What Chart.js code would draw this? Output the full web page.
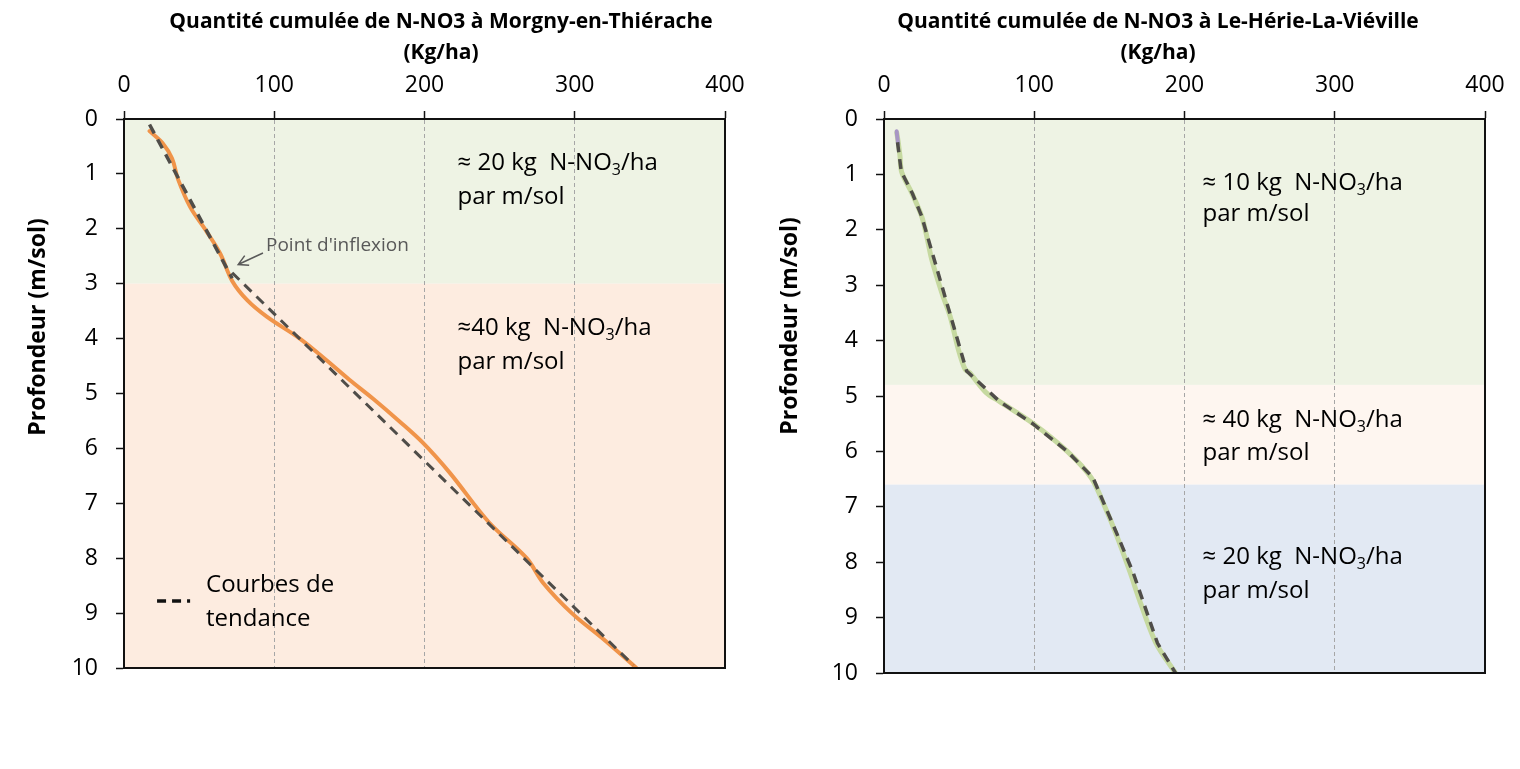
<!DOCTYPE html>
<html>
<head>
<meta charset="utf-8">
<script src="https://cdn.jsdelivr.net/npm/chart.js@4.4.1/dist/chart.umd.min.js"></script>
<style>
  body { margin: 0; background: #fff; }
  .wrap { display: flex; width: 1520px; height: 769px; }
  canvas { display: block; }
</style>
</head>
<body>
<div class="wrap">
  <canvas id="morgny" width="760" height="769"></canvas>
  <canvas id="herie" width="760" height="769"></canvas>
</div>
<script>
// axes
const kgTicks = [0, 100, 200, 300, 400];
const depthTicks = [0, 1, 2, 3, 4, 5, 6, 7, 8, 9, 10];

// Morgny-en-Thiérache : quantité cumulée (kg/ha) selon profondeur (m)
const morgnyKg = [17, 26, 32, 36, 44, 55, 64, 72, 82, 95, 117, 135, 150, 166, 183, 199, 217, 243, 268, 279, 298, 318, 341];
const morgnyDepth = [0.22, 0.45, 0.72, 1.1, 1.6, 2.05, 2.45, 2.95, 3.3, 3.6, 4.0, 4.4, 4.75, 5.1, 5.5, 5.9, 6.45, 7.35, 8.0, 8.45, 9.0, 9.45, 10.0];
const morgnyTrend1Kg = [17, 72];
const morgnyTrend1Depth = [0.1, 2.9];
const morgnyTrend2Kg = [72, 339];
const morgnyTrend2Depth = [2.8, 9.95];
const morgnyZones = [0, 3, 10];

// Le-Hérie-La-Viéville
const herieKg = [8.5, 9.5, 10.6, 11.8, 18.4, 25, 28.4, 31.7, 38.4, 44, 49.5, 54, 57, 68, 77, 99, 122, 138, 147, 155, 164, 170, 181, 194];
const herieDepth = [0.25, 0.42, 0.66, 0.96, 1.33, 1.75, 2.11, 2.53, 3.13, 3.56, 4.16, 4.52, 4.58, 4.94, 5.1, 5.49, 6.0, 6.48, 7.0, 7.53, 8.2, 8.68, 9.46, 10.0];
const herieTipKg = [8.4, 9.4];
const herieTipDepth = [0.22, 0.45];
const herieTrendKg = [9, 11.5, 19, 25, 55, 77, 99, 122, 139, 156, 166, 182, 194];
const herieTrendDepth = [0.42, 0.95, 1.35, 1.75, 4.55, 5.1, 5.5, 6.0, 6.47, 7.55, 8.2, 9.46, 10.0];
const herieZones = [0, 4.8, 6.6, 10];

const FONT = "'Open Sans', 'DejaVu Sans', sans-serif";
const NOTE_SIZE = 24;

function pts(xs, ys) {
    return xs.map((x, i) => ({ x: x, y: ys[i] }));
}

// texte avec indice (N-NO3)
function drawRich(ctx, parts, x, y, size) {
    let cx = x;
    parts.forEach(p => {
        if (typeof p === "string") {
            ctx.font = size + "px " + FONT;
            ctx.fillText(p, cx, y);
            cx += ctx.measureText(p).width;
        } else {
            ctx.font = Math.round(size * 0.65) + "px " + FONT;
            ctx.fillText(p.sub, cx, y + size * 0.3);
            cx += ctx.measureText(p.sub).width;
        }
    });
}

const decor = {
    id: "decor",
    beforeDraw(chart, args, o) {
        const { ctx, chartArea: a, scales: { y } } = chart;
        ctx.save();
        o.zones.forEach((z, i) => {
            if (i === o.zones.length - 1) return;
            const y1 = y.getPixelForValue(z), y2 = y.getPixelForValue(o.zones[i + 1]);
            ctx.fillStyle = o.zoneColors[i];
            ctx.fillRect(a.left, y1, a.right - a.left, y2 - y1);
        });
        ctx.restore();
    },
    afterDatasetsDraw(chart, args, o) {
        const { ctx, chartArea: a, scales: { x, y } } = chart;
        ctx.save();
        // cadre
        ctx.strokeStyle = "#111";
        ctx.lineWidth = 2;
        ctx.beginPath();
        ctx.moveTo(a.right, a.top);
        ctx.lineTo(a.right, a.bottom);
        ctx.lineTo(a.left, a.bottom);
        ctx.stroke();

        // titres
        ctx.fillStyle = "#000";
        ctx.textAlign = "center";
        ctx.textBaseline = "middle";
        ctx.font = "bold 21px " + FONT;
        o.title.forEach((t, i) => ctx.fillText(t, o.titleX, 22 + i * 31));
        ctx.save();
        ctx.translate(o.yTitleX, o.yTitleY);
        ctx.rotate(-Math.PI / 2);
        ctx.font = "bold 23px " + FONT;
        ctx.fillText("Profondeur (m/sol)", 0, 0);
        ctx.restore();

        // annotations
        ctx.textAlign = "left";
        o.notes.forEach(n => {
            const px = x.getPixelForValue(n.kg), py = y.getPixelForValue(n.depth);
            drawRich(ctx, n.parts, px, py, NOTE_SIZE);
            ctx.font = NOTE_SIZE + "px " + FONT;
            ctx.fillText("par m/sol", px, y.getPixelForValue(n.depth2));
        });

        if (o.inflexion) {
            const f = o.inflexion;
            ctx.fillStyle = "#595959";
            ctx.font = "19px " + FONT;
            ctx.fillText("Point d'inflexion", x.getPixelForValue(f.kg), y.getPixelForValue(f.depth));
            const tx = x.getPixelForValue(f.tipKg), ty = y.getPixelForValue(f.tipDepth);
            const sx = x.getPixelForValue(f.tailKg), sy = y.getPixelForValue(f.tailDepth);
            const ang = Math.atan2(ty - sy, tx - sx);
            ctx.strokeStyle = "#595959";
            ctx.lineWidth = 1.5;
            ctx.beginPath();
            ctx.moveTo(sx, sy);
            ctx.lineTo(tx, ty);
            ctx.moveTo(tx - 11 * Math.cos(ang - 0.5), ty - 11 * Math.sin(ang - 0.5));
            ctx.lineTo(tx, ty);
            ctx.lineTo(tx - 11 * Math.cos(ang + 0.5), ty - 11 * Math.sin(ang + 0.5));
            ctx.stroke();
        }

        if (o.legend) {
            const l = o.legend;
            const ly = y.getPixelForValue(l.depth);
            ctx.strokeStyle = "#111";
            ctx.lineWidth = 3.5;
            ctx.setLineDash([9, 6]);
            ctx.beginPath();
            ctx.moveTo(x.getPixelForValue(l.fromKg), ly);
            ctx.lineTo(x.getPixelForValue(l.toKg), ly);
            ctx.stroke();
            ctx.setLineDash([]);
            ctx.fillStyle = "#000";
            ctx.font = NOTE_SIZE + "px " + FONT;
            ctx.fillText("Courbes de", x.getPixelForValue(l.textKg), ly - 16);
            ctx.fillText("tendance", x.getPixelForValue(l.textKg), ly + 18);
        }
        ctx.restore();
    }
};

function scalesFor() {
    return {
        x: {
            type: "linear", position: "top", min: 0, max: 400,
            afterBuildTicks: s => { s.ticks = kgTicks.map(v => ({ value: v })); },
            afterFit: s => { s.height = 119; },
            ticks: { color: "#000", font: { family: FONT, size: 23 }, padding: 12 },
            grid: {
                color: c => (c.tick && (c.tick.value === 0 || c.tick.value === 400)) ? "rgba(0,0,0,0)" : "#a6a6a6",
                lineWidth: 1, tickColor: "#111", tickLength: 8, tickWidth: 1.5
            },
            border: { display: true, color: "#111", width: 2, dash: [4, 3] }
        },
        y: {
            type: "linear", reverse: true, min: 0, max: 10,
            afterBuildTicks: s => { s.ticks = depthTicks.map(v => ({ value: v })); },
            afterFit: s => { s.width = 124; },
            ticks: { color: "#000", font: { family: FONT, size: 23 }, padding: 18 },
            grid: { drawOnChartArea: false, tickColor: "#111", tickLength: 8, tickWidth: 1.5 },
            border: { display: true, color: "#111", width: 2 }
        }
    };
}

const lineBase = { pointRadius: 0, fill: false, borderCapStyle: "round" };
const trendBase = { pointRadius: 0, fill: false, borderColor: "#4f4d49", borderWidth: 3.5, borderDash: [10, 7], borderCapStyle: "butt", order: 0 };

new Chart(document.getElementById("morgny"), {
    type: "line",
    data: {
        datasets: [
            Object.assign({ label: "Tendance 1", data: pts(morgnyTrend1Kg, morgnyTrend1Depth) }, trendBase),
            Object.assign({ label: "Tendance 2", data: pts(morgnyTrend2Kg, morgnyTrend2Depth) }, trendBase, { borderWidth: 3 }),
            Object.assign({ label: "Morgny", data: pts(morgnyKg, morgnyDepth), borderColor: "#f0944a", borderWidth: 4, tension: 0.35, order: 1 }, lineBase)
        ]
    },
    options: {
        responsive: false, animation: false,
        layout: { padding: { left: 0, top: 0, right: 35, bottom: 101 } },
        scales: scalesFor(),
        plugins: {
            legend: { display: false }, tooltip: { enabled: false },
            decor: {
                zones: morgnyZones, zoneColors: ["#eef3e4", "#fdece0"],
                title: ["Quantité cumulée de N-NO3 à Morgny-en-Thiérache", "(Kg/ha)"],
                titleX: 441, yTitleX: 38, yTitleY: 327,
                notes: [
                    { parts: ["≈ 20 kg  N-NO", { sub: "3" }, "/ha"], kg: 222, depth: 0.8, depth2: 1.42 },
                    { parts: ["≈40 kg  N-NO", { sub: "3" }, "/ha"], kg: 222, depth: 3.81, depth2: 4.43 }
                ],
                inflexion: { kg: 94.5, depth: 2.3, tailKg: 92.5, tailDepth: 2.44, tipKg: 76, tipDepth: 2.65 },
                legend: { fromKg: 22, toKg: 44, depth: 8.78, textKg: 54.6 }
            }
        }
    },
    plugins: [decor]
});

new Chart(document.getElementById("herie"), {
    type: "line",
    data: {
        datasets: [
            Object.assign({ label: "Tendance", data: pts(herieTrendKg, herieTrendDepth) }, trendBase),
            Object.assign({ label: "Pointe", data: pts(herieTipKg, herieTipDepth), borderColor: "#a796c4", borderWidth: 4, order: 1 }, lineBase),
            Object.assign({ label: "Le-Hérie", data: pts(herieKg, herieDepth), borderColor: "#c6d9a0", borderWidth: 5, tension: 0.3, order: 2 }, lineBase)
        ]
    },
    options: {
        responsive: false, animation: false,
        layout: { padding: { left: 0, top: 0, right: 35, bottom: 96 } },
        scales: scalesFor(),
        plugins: {
            legend: { display: false }, tooltip: { enabled: false },
            decor: {
                zones: herieZones, zoneColors: ["#eef3e4", "#fef6f0", "#e2e9f3"],
                title: ["Quantité cumulée de N-NO3 à Le-Hérie-La-Viéville", "(Kg/ha)"],
                titleX: 398, yTitleX: 30, yTitleY: 326,
                notes: [
                    { parts: ["≈ 10 kg  N-NO", { sub: "3" }, "/ha"], kg: 212, depth: 1.16, depth2: 1.71 },
                    { parts: ["≈ 40 kg  N-NO", { sub: "3" }, "/ha"], kg: 212, depth: 5.43, depth2: 6.03 },
                    { parts: ["≈ 20 kg  N-NO", { sub: "3" }, "/ha"], kg: 212, depth: 7.91, depth2: 8.52 }
                ]
            }
        }
    },
    plugins: [decor]
});
</script>
</body>
</html>
